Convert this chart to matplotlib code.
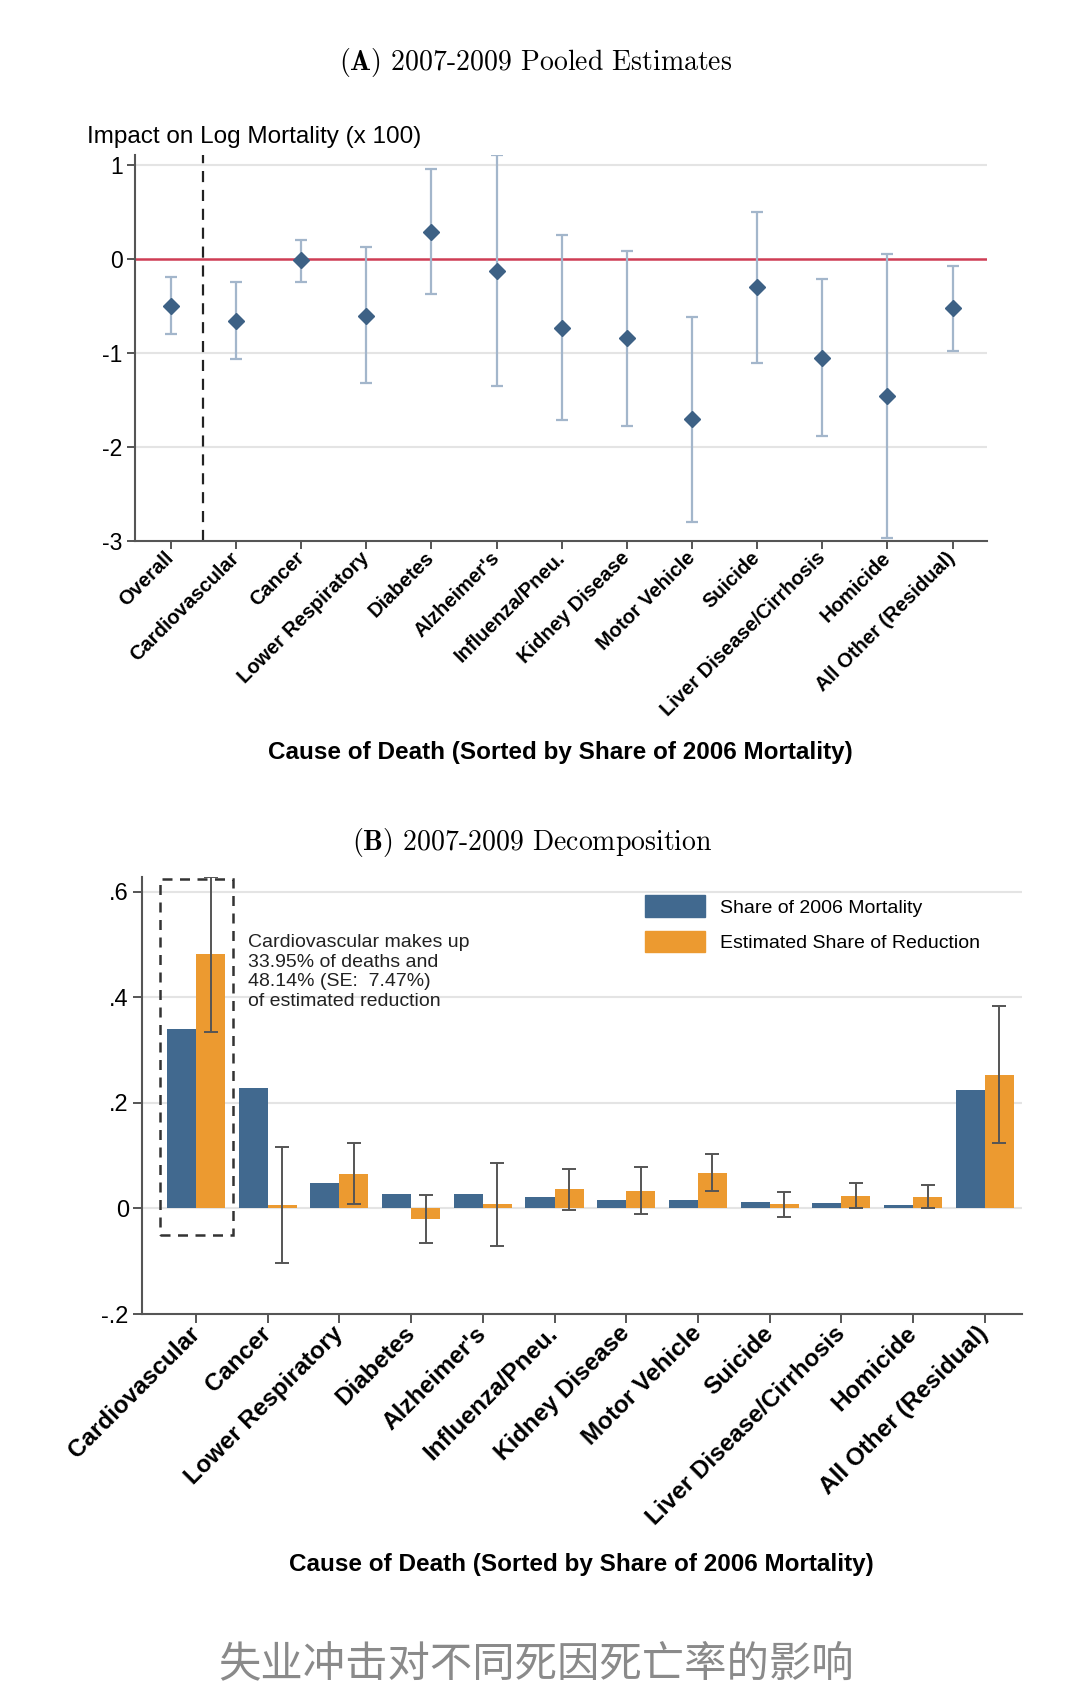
import numpy as np
import matplotlib
matplotlib.use("Agg")
import matplotlib.pyplot as plt
from matplotlib.patches import Rectangle, Patch

plt.rcParams['font.family'] = ['Liberation Sans', 'DejaVu Sans']
plt.rcParams['mathtext.fontset'] = 'cm'
plt.rcParams['axes.unicode_minus'] = False

# panel A: pooled estimates (impact on log mortality x 100)
causes_a = ['Overall', 'Cardiovascular', 'Cancer', 'Lower Respiratory', 'Diabetes',
            "Alzheimer's", 'Influenza/Pneu.', 'Kidney Disease', 'Motor Vehicle',
            'Suicide', 'Liver Disease/Cirrhosis', 'Homicide', 'All Other (Residual)']
est_a = [-0.50, -0.66, -0.01, -0.60, 0.29, -0.13, -0.73, -0.84, -1.70, -0.30, -1.05, -1.46, -0.52]
lo_a = [-0.80, -1.06, -0.24, -1.32, -0.37, -1.35, -1.71, -1.77, -2.80, -1.10, -1.88, -2.97, -0.98]
hi_a = [-0.19, -0.24, 0.21, 0.13, 0.96, 1.11, 0.26, 0.09, -0.61, 0.50, -0.21, 0.06, -0.07]
yticks_a = [1, 0, -1, -2, -3]

# panel B: decomposition
causes_b = causes_a[1:]
share_2006 = [0.3395, 0.229, 0.049, 0.028, 0.028, 0.022, 0.017, 0.017, 0.012, 0.010, 0.006, 0.224]
share_red = [0.4814, 0.006, 0.066, -0.019, 0.008, 0.037, 0.034, 0.068, 0.008, 0.024, 0.022, 0.253]
red_lo = [0.335, -0.104, 0.008, -0.066, -0.072, -0.003, -0.011, 0.034, -0.016, 0.001, 0.001, 0.125]
red_hi = [0.628, 0.117, 0.125, 0.025, 0.087, 0.074, 0.078, 0.103, 0.032, 0.048, 0.045, 0.383]
yticks_b = [0.6, 0.4, 0.2, 0, -0.2]
yticklabels_b = ['.6', '.4', '.2', '0', '-.2']

blue = '#41698f'
orange = '#ec9a30'
spine_c = '#555555'
grid_c = '#e4e4e4'

fig = plt.figure(figsize=(10.8, 16.96), dpi=100)

# ---------- panel A ----------
ax1 = fig.add_axes([0.125, 0.681, 0.789, 0.2276])
xa = np.arange(len(causes_a))
est = np.array(est_a)
err = [est - np.array(lo_a), np.array(hi_a) - est]
for yv in [1, -1, -2]:
    ax1.axhline(yv, color=grid_c, lw=1.5, zorder=0)
ax1.axhline(0, color='#cf3d55', lw=1.8, zorder=1)
ax1.axvline(0.5, color='#222222', lw=1.6, ls=(0, (5, 3.5)), zorder=1)
ax1.errorbar(xa, est, yerr=err, fmt='none', ecolor='#a3b6cb', elinewidth=1.6,
             capsize=4.5, capthick=1.6, zorder=2)
ax1.plot(xa, est, 'D', color='#3d6185', ms=8, zorder=3)
ax1.set_xlim(-0.55, 12.53)
ax1.set_ylim(-3, 1.11)
ax1.set_yticks(yticks_a)
ax1.set_yticklabels([str(v) for v in yticks_a])
ax1.set_xticks(xa)
ax1.set_xticklabels(causes_a, rotation=45, ha='right', va='center',
                    rotation_mode='anchor', fontsize=14.5, fontweight='bold')
for s in ['top', 'right']:
    ax1.spines[s].set_visible(False)
for s in ['left', 'bottom']:
    ax1.spines[s].set_color(spine_c)
    ax1.spines[s].set_linewidth(1.5)
ax1.tick_params(axis='y', labelsize=16.5, length=6, width=1.4, color=spine_c, pad=3)
ax1.tick_params(axis='x', length=6, width=1.4, color=spine_c, pad=4)

fig.text(0.081, 0.919, 'Impact on Log Mortality (x 100)', fontsize=17.5, ha='left', va='center')
fig.text(0.519, 0.5562, 'Cause of Death (Sorted by Share of 2006 Mortality)',
         fontsize=17.5, fontweight='bold', ha='center', va='center')
fig.text(0.496, 0.9629, r'$\mathbf{(A)}$ 2007-2009 Pooled Estimates', family='cmr10',
         fontsize=20, ha='center', va='center')

# ---------- panel B ----------
ax2 = fig.add_axes([0.1315, 0.2252, 0.8148, 0.2577])
xb = np.arange(len(causes_b))
w = 0.405
for yv in [0.6, 0.4, 0.2, 0]:
    ax2.axhline(yv, color=grid_c, lw=1.5, zorder=0)
ax2.bar(xb - w / 2, share_2006, width=w, color=blue, zorder=2, label='Share of 2006 Mortality')
ax2.bar(xb + w / 2, share_red, width=w, color=orange, zorder=2, label='Estimated Share of Reduction')
sr = np.array(share_red)
ax2.errorbar(xb + w / 2, sr, yerr=[sr - np.array(red_lo), np.array(red_hi) - sr], fmt='none',
             ecolor='#555555', elinewidth=1.4, capsize=5, capthick=1.4, zorder=3)
ax2.add_patch(Rectangle((-0.5, -0.05), 1.02, 0.675, fill=False, ec='#333333', lw=1.8,
                        ls=(0, (4, 3)), zorder=4, clip_on=False))
ax2.text(0.725, 0.52, 'Cardiovascular makes up\n33.95% of deaths and\n48.14% (SE:  7.47%)\nof estimated reduction',
         fontsize=14, ha='left', va='top', linespacing=1.2, color='#222222')
ax2.set_xlim(-0.753, 11.52)
ax2.set_ylim(-0.2, 0.628)
ax2.set_yticks(yticks_b)
ax2.set_yticklabels(yticklabels_b)
ax2.set_xticks(xb)
ax2.set_xticklabels(causes_b, rotation=45, ha='right', va='center',
                    rotation_mode='anchor', fontsize=17.5, fontweight='bold')
for s in ['top', 'right']:
    ax2.spines[s].set_visible(False)
for s in ['left', 'bottom']:
    ax2.spines[s].set_color(spine_c)
    ax2.spines[s].set_linewidth(1.5)
ax2.tick_params(axis='y', labelsize=17, length=6.5, width=1.4, color=spine_c, pad=3)
ax2.tick_params(axis='x', length=6.5, width=1.4, color=spine_c, pad=5)

handles = [Patch(color=blue), Patch(color=orange)]
fig.legend(handles, ['Share of 2006 Mortality', 'Estimated Share of Reduction'],
           loc='upper left', bbox_to_anchor=(0.597, 0.4722), frameon=False, fontsize=14,
           handlelength=3.1, handleheight=1.35, labelspacing=0.7, handletextpad=0.75,
           borderpad=0, borderaxespad=0)

fig.text(0.538, 0.0775, 'Cause of Death (Sorted by Share of 2006 Mortality)',
         fontsize=17.5, fontweight='bold', ha='center', va='center')
fig.text(0.493, 0.5035, r'$\mathbf{(B)}$ 2007-2009 Decomposition', family='cmr10',
         fontsize=20, ha='center', va='center')

fig.text(0.4965, 0.0185, '失业冲击对不同死因死亡率的影响', family=['Noto Sans CJK SC', 'DejaVu Sans'],
         fontsize=30.5, fontweight='light', color='#8a8a8a', ha='center', va='center')

fig.savefig('out.png', dpi=100)
